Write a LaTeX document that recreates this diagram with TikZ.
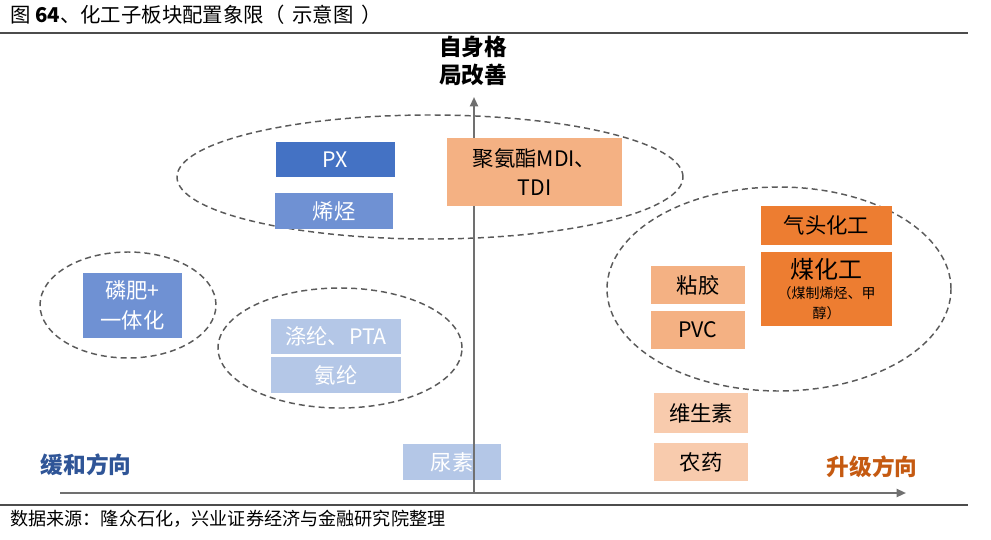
\documentclass[tikz,border=0pt]{standalone}
\usepackage{fontspec}
\setmainfont{Noto Sans CJK SC}
\usetikzlibrary{shapes.geometric,arrows.meta}
\definecolor{bdark}{HTML}{4472C4}
\definecolor{bmid}{HTML}{6F91D3}
\definecolor{blight}{HTML}{B4C7E7}
\definecolor{odark}{HTML}{ED7D31}
\definecolor{omid}{HTML}{F4B183}
\definecolor{olight}{HTML}{F8CBAD}
\definecolor{axisgray}{HTML}{707070}
\definecolor{dashgray}{HTML}{5A5A5A}
\definecolor{txtblue}{HTML}{2F5597}
\definecolor{txtorange}{HTML}{C55A11}
\tikzset{
  sz/.style 2 args={minimum width=#1*0.75pt, minimum height=#2*0.75pt},
  bx/.style={rectangle, inner sep=0pt, align=center, font=\fontsize{16}{22}\selectfont},
  wbx/.style={bx, text=white},
  kbx/.style={bx, text=black},
  grp/.style={ellipse, draw=dashgray, line width=1.1pt, dash pattern=on 4.5pt off 3pt, inner sep=0pt},
  axisline/.style={draw=axisgray, line width=1.5pt, -{Triangle[length=7pt,width=6pt]}},
  rule/.style={draw=black!70, line width=1pt}
}
\begin{document}
\begin{tikzpicture}[x=0.75pt,y=-0.75pt]
\useasboundingbox (0,0) rectangle (991,539);
% title and rules
\node[anchor=west, inner sep=0pt, font=\fontsize{15.3}{18}\selectfont] (title) at (10,15) {图 \textbf{64}、化工子板块配置象限（\hspace{6pt}示意图\hspace{6pt}）};
\coordinate (r1a) at (0,33); \coordinate (r1b) at (968,33);
\draw[rule] (r1a) -- (r1b);
\coordinate (r2a) at (0,505); \coordinate (r2b) at (968,505);
\draw[rule] (r2a) -- (r2b);
\node[anchor=west, inner sep=0pt, font=\fontsize{13.6}{15}\selectfont] (src) at (10,519) {数据来源：隆众石化，兴业证券经济与金融研究院整理};
% ellipses
\node[grp, sz={506}{124}] (e1) at (430,177) {};
\node[grp, sz={176}{106}] (e2) at (128,305) {};
\node[grp, sz={244}{120}] (e3) at (340,348) {};
\node[grp, sz={344}{204}] (e4) at (779,289) {};
% box under axis
\node[wbx, fill=blight, sz={98}{36}] (urea) at (452,462) {尿素};
% axes
\coordinate (vb) at (474,492); \coordinate (vt) at (474,97);
\coordinate (hl) at (60,493); \coordinate (hr) at (906,493);
\draw[axisline] (vb) -- (vt);
\draw[axisline] (hl) -- (hr);
% axis labels
\node[align=center, inner sep=0pt, font=\bfseries\fontsize{17}{21}\selectfont] (ylab) at (473,61) {自身格\\局改善};
\node[inner sep=0pt, text=txtblue, font=\bfseries\fontsize{17}{20}\selectfont] (left) at (86,465) {缓和方向};
\node[inner sep=0pt, text=txtorange, font=\bfseries\fontsize{17}{20}\selectfont] (right) at (872,467) {升级方向};
% boxes
\node[wbx, fill=bdark, sz={119}{35}] (px) at (335.5,159.5) {PX};
\node[wbx, fill=bmid, sz={118}{36}] (olef) at (334,211) {烯烃};
\node[kbx, fill=omid, sz={175}{68}] (pu) at (534.5,172) {聚氨酯MDI、\\TDI};
\node[wbx, fill=bmid, sz={99}{65}] (phos) at (132.5,305.5) {磷肥+\\一体化};
\node[wbx, fill=blight, sz={130}{35}] (pta) at (336,336.5) {涤纶、PTA};
\node[wbx, fill=blight, sz={130}{36}] (span) at (336,375) {氨纶};
\node[kbx, fill=odark, sz={131}{39}] (gas) at (826.5,225.5) {气头化工};
\node[kbx, fill=odark, sz={131}{74}, font=\fontsize{10.5}{15}\selectfont] (coal) at (826.5,289) {{\fontsize{18}{20}\selectfont 煤化工}\\[0.5pt]（煤制烯烃、甲\\醇）};
\node[kbx, fill=omid, sz={94}{38}] (visc) at (698,285) {粘胶};
\node[kbx, fill=omid, sz={94}{38}] (pvc) at (698,330) {PVC};
\node[kbx, fill=olight, sz={94}{40}] (vit) at (701,413) {维生素};
\node[kbx, fill=olight, sz={94}{38}] (pest) at (701,462) {农药};
\end{tikzpicture}
\end{document}
